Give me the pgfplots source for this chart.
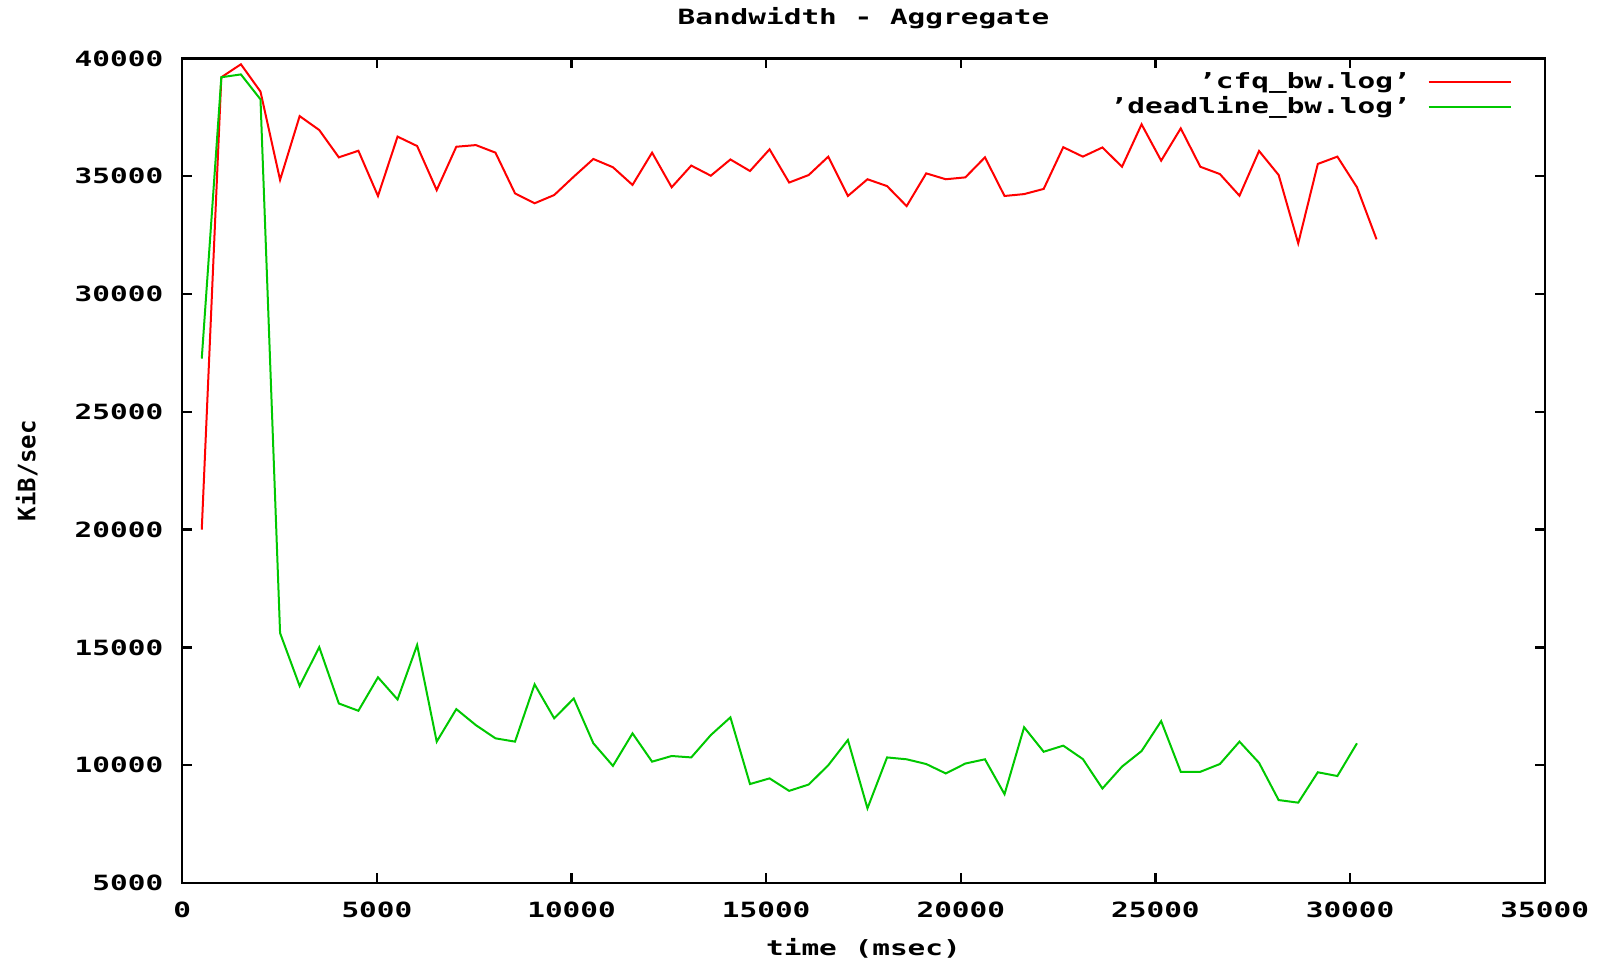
\documentclass[border=0pt]{standalone}
\usepackage{pgfplots}
\pgfplotsset{compat=1.18}
\usepackage{fontspec}
\setmainfont{DejaVu Sans Mono}[FakeStretch=1.4]
\newfontfamily\ylfont{DejaVu Sans Mono}
\definecolor{gpred}{RGB}{255,0,0}
\definecolor{gpgreen}{RGB}{0,200,0}
\begin{document}
\begin{tikzpicture}[font=\bfseries\fontsize{10.5}{12}\selectfont]
\useasboundingbox (-91.15pt,-39.5pt) rectangle (711.85pt,441.5pt);
\begin{axis}[
  scale only axis, width=681.2pt, height=412.3pt, at={(0,0)}, anchor=south west,
  xmin=0, xmax=35000, ymin=5000, ymax=40000,
  xtick={0,5000,...,35000}, ytick={5000,10000,...,40000},
  minor tick num=0,
  tick align=inside, major tick length=5pt,
  axis line style={line width=1.2pt},
  every tick/.style={black, line width=1.2pt},
  scaled ticks=false,
  /pgf/number format/.cd, 1000 sep={}, assume math mode=true, /pgfplots/.cd,
  xticklabel style={yshift=-6pt},
  yticklabel style={xshift=-6pt},
  title={Bandwidth - Aggregate},
  title style={at={(axis description cs:0.5,1.034)}, anchor=center},
  xlabel={time (msec)},
  xlabel style={at={(axis description cs:0.5,-0.0793)}, anchor=center},
  ylabel={\ylfont\bfseries\fontsize{12}{14}\selectfont KiB/sec},
  ylabel style={at={(axis description cs:-0.1142,0.5)}, anchor=center},
  legend cell align=right, legend plot pos=right,
  legend style={at={(axis description cs:1,1)}, anchor=north east, xshift=-13.3pt, yshift=-3pt, draw=none, fill=none, row sep=-1.5pt},
  legend image code/.code={\path (0pt,0pt); \draw[#1] (6.5pt,0pt) -- (47.5pt,0pt);},
]
\addplot[gpred, line width=1pt, mark=none] coordinates {
(500,20000)(1003,39200)(1506,39750)(2009,38590)(2512,34840)(3015,37550)(3518,36960)(4021,35800)(4524,36080)(5027,34160)
(5530,36680)(6033,36280)(6536,34410)(7039,36250)(7542,36320)(8045,36000)(8548,34270)(9051,33850)(9554,34200)(10057,34980)
(10560,35730)(11063,35380)(11566,34630)(12069,36000)(12572,34530)(13075,35450)(13578,35020)(14081,35710)(14584,35220)(15087,36140)
(15590,34730)(16093,35050)(16596,35830)(17099,34160)(17602,34870)(18105,34580)(18608,33730)(19111,35120)(19614,34870)(20117,34950)
(20620,35800)(21123,34160)(21626,34240)(22129,34460)(22632,36230)(23135,35830)(23638,36220)(24141,35400)(24644,37200)(25147,35660)
(25650,37030)(26153,35400)(26656,35090)(27159,34170)(27662,36070)(28165,35050)(28668,32150)(29171,35520)(29674,35830)(30177,34530)
(30680,32320)
};
\addlegendentry{’cfq\_bw.log’}
\addplot[gpgreen, line width=1pt, mark=none] coordinates {
(500,27260)(1003,39200)(1506,39320)(2009,38260)(2512,15610)(3015,13360)(3518,15010)(4021,12620)(4524,12310)(5027,13730)
(5530,12790)(6033,15100)(6536,11000)(7039,12380)(7542,11700)(8045,11140)(8548,11000)(9051,13430)(9554,11990)(10057,12830)
(10560,10930)(11063,9970)(11566,11350)(12069,10150)(12572,10390)(13075,10330)(13578,11280)(14081,12030)(14584,9200)(15087,9440)
(15590,8910)(16093,9180)(16596,10000)(17099,11070)(17602,8170)(18105,10330)(18608,10250)(19111,10050)(19614,9650)(20117,10070)
(20620,10250)(21123,8770)(21626,11610)(22129,10570)(22632,10830)(23135,10260)(23638,9010)(24141,9940)(24644,10600)(25147,11870)
(25650,9720)(26153,9720)(26656,10050)(27159,11000)(27662,10100)(28165,8520)(28668,8410)(29171,9700)(29674,9540)(30177,10930)
};
\addlegendentry{’deadline\_bw.log’}
\end{axis}
\end{tikzpicture}
\end{document}
